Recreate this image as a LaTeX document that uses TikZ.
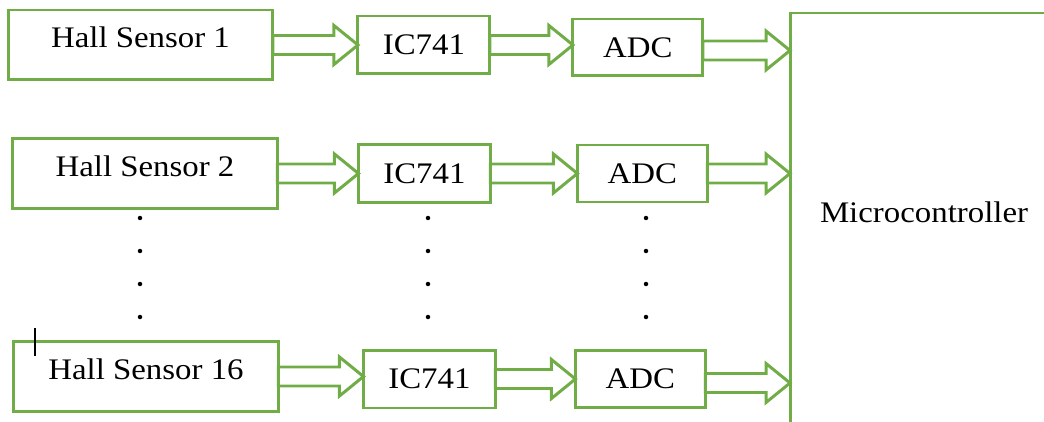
\documentclass[tikz,border=0pt]{standalone}
\usepackage{fontspec}
\setmainfont{Liberation Serif}[FakeStretch=1.1]
\usepackage{xcolor}
\usepackage{tikz}
\usetikzlibrary{calc, positioning}

\definecolor{boxgreen}{RGB}{112,173,71}

\begin{document}
\begin{tikzpicture}[
        x=0.02cm, y=-0.02cm,
        box/.style={draw=boxgreen, line width=1.7pt, rectangle, outer sep=0pt, fill=white, font=\fontsize{17}{20}\selectfont},
        sensor/.style={box, minimum width=5.3cm, inner ysep=0pt, text height=0.76cm, text depth=0.64cm},
        opamp/.style={box, minimum width=2.64cm, minimum height=1.16cm},
        converter/.style={box, minimum width=2.6cm, minimum height=1.14cm},
        blockarrow/.style={draw=boxgreen, line width=1.7pt, line join=miter,
            to path={let \p1=(\tikztostart), \p2=(\tikztotarget) in
                (\x1,\y1+0.19cm) -- (\x2-0.48cm,\y1+0.19cm) -- (\x2-0.48cm,\y1+0.39cm)
                -- (\x2,\y1) -- (\x2-0.48cm,\y1-0.39cm) -- (\x2-0.48cm,\y1-0.19cm)
                -- (\x1,\y1-0.19cm) -- cycle}}
    ]
        \useasboundingbox (0,0) rectangle (1044,422);
        \clip (0,0) rectangle (1044,422);

        % Nodes
            \node[sensor] (hs1) at (140.5,45) {Hall Sensor 1};
            \node[opamp, right=1.7cm of hs1] (ic1) {IC741};
            \node[converter, right=1.66cm of ic1, yshift=-0.05cm] (adc1) {ADC};

            \node[sensor] (hs2) at (145,173.5) {Hall Sensor 2};
            \node[opamp, right=1.62cm of hs2] (ic2) {IC741};
            \node[converter, right=1.74cm of ic2] (adc2) {ADC};

            \node[sensor] (hs16) at (146,376.5) {Hall Sensor 16};
            \node[opamp, right=1.7cm of hs16, yshift=-0.05cm] (ic16) {IC741};
            \node[converter, right=1.6cm of ic16] (adc16) {ADC};

            \node[box, anchor=north west, minimum width=6cm, minimum height=10cm] (mc) at (790,13) {};
            \node[font=\fontsize{17}{20}\selectfont] (mclabel) at (924,212) {Microcontroller};

            % Dots
            \foreach \dx in {140,428,646} {
                \foreach \dy in {218,251,284,317} {
                    \fill (\dx,\dy) circle (0.045cm);
                }
            }

            % cursor mark
            \draw[line width=0.6pt] (35,328) -- (35,356);

            % Arrows
            \coordinate (out1) at ([yshift=-0.06cm]adc1.east);
            \coordinate (out16) at ([yshift=-0.08cm]adc16.east);
            \draw[blockarrow] (hs1.east) to (ic1.west);
            \draw[blockarrow] (ic1.east) to (adc1.west);
            \draw[blockarrow] (out1) to (out1 -| mc.west);
            \draw[blockarrow] (hs2.east) to (ic2.west);
            \draw[blockarrow] (ic2.east) to (adc2.west);
            \draw[blockarrow] (adc2.east) to (adc2.east -| mc.west);
            \draw[blockarrow] (hs16.east) to (ic16.west);
            \draw[blockarrow] (ic16.east) to (adc16.west);
            \draw[blockarrow] (out16) to (out16 -| mc.west);
    \end{tikzpicture}
\end{document}
